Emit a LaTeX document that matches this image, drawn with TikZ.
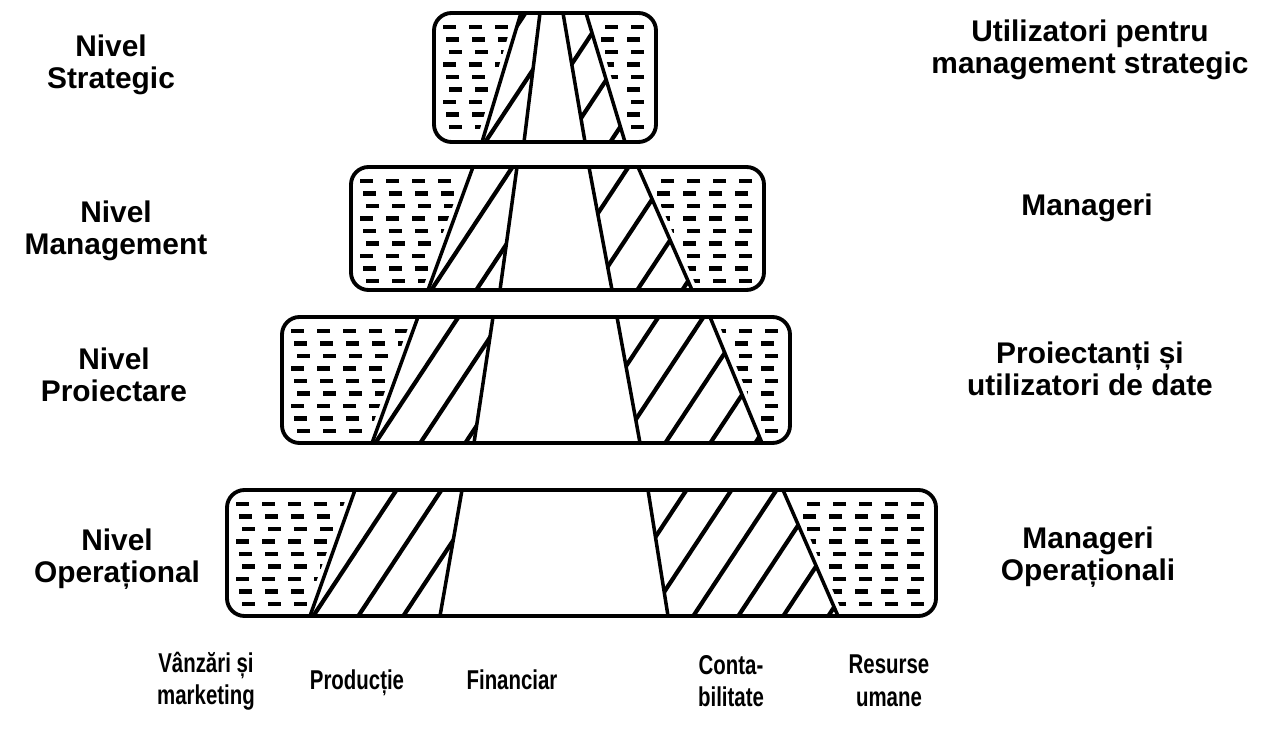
\documentclass[tikz,border=0pt]{standalone}
\usepackage{fontspec}
\setmainfont{Liberation Sans}
\newfontfamily\narrowsans[FakeStretch=0.75]{Liberation Sans}
\begin{document}
\begin{tikzpicture}[x=0.02cm, y=-0.02cm,
  frame/.style={line width=2.2pt, rounded corners=10pt},
  divider/.style={line width=2pt},
  hatchline/.style={line width=2.4pt, line cap=round},
  dashrow/.style={line width=2.4pt, dash pattern=on 7.6pt off 7.2pt},
  lbl/.style={font=\fontsize{17}{18.5}\selectfont\bfseries, align=center, inner sep=0pt},
  deptlbl/.style={font=\narrowsans\bfseries\fontsize{15.5}{18.5}\selectfont, align=center, inner sep=0pt}]
\useasboundingbox (0,0) rectangle (1277,732);

% one band per level: top/bottom, left/right, then the four slanted dividers (top x / bottom x)
\foreach \ya/\yb/\xl/\xr/\pa/\qa/\pb/\qb/\pc/\qc/\pd/\qd in {
  13/142/434/656/521/482/540/524/563/585/586/625,
  167/290/351/764/473/428/517/500/589/612/638/692,
  317/443/282/790/418/372/493/474/617/640/710/762,
  490/616/227/936/355/310/462/440/648/668/783/838}
{
  \begin{scope}
    \clip[rounded corners=10pt] (\xl,\ya) rectangle (\xr,\yb);
    % sales and marketing: rows of short dashes
    \begin{scope}
      \clip (\xl-9,\ya) -- (\pa-6,\ya) -- (\qa-6,\yb) -- (\xl-9,\yb) -- cycle;
      \foreach \k in {0,...,8}{
        \pgfmathsetmacro{\rowy}{\ya+14+12.5*\k}
        \pgfmathsetmacro{\rowx}{\xl+9+mod(\k,3)*3}
        \draw[dashrow] (\rowx,\rowy) -- (\pa+20,\rowy);
      }
    \end{scope}
    % production: diagonal hatching
    \begin{scope}
      \clip (\pa,\ya) -- (\pb,\ya) -- (\qb,\yb) -- (\qa,\yb) -- cycle;
      \foreach \s in {-4,...,5}
        \draw[hatchline] (\qa+45*\s,\yb+5) -- ++(95.7,-145);
    \end{scope}
    % accounting: diagonal hatching
    \begin{scope}
      \clip (\pc,\ya) -- (\pd,\ya) -- (\qd,\yb) -- (\qc,\yb) -- cycle;
      \foreach \s in {-4,...,5}
        \draw[hatchline] (\qc+22+45*\s,\yb+5) -- ++(95.7,-145);
    \end{scope}
    % human resources: rows of short dashes
    \begin{scope}
      \clip (\pd+6,\ya) -- (\xr+9,\ya) -- (\xr+9,\yb) -- (\qd+6,\yb) -- cycle;
      \foreach \k in {0,...,8}{
        \pgfmathsetmacro{\rowy}{\ya+14+12.5*\k}
        \pgfmathsetmacro{\rowx}{\xr-12-mod(\k,2)*4}
        \draw[dashrow] (\rowx,\rowy) -- (\pd-20,\rowy);
      }
    \end{scope}
  \end{scope}
  \draw[divider] (\pa,\ya) -- (\qa,\yb);
  \draw[divider] (\pb,\ya) -- (\qb,\yb);
  \draw[divider] (\pc,\ya) -- (\qc,\yb);
  \draw[divider] (\pd,\ya) -- (\qd,\yb);
  \draw[frame] (\xl,\ya) rectangle (\xr,\yb);
}

% level names
\node[lbl] (lvS) at (111,65)  {Nivel\\Strategic};
\node[lbl] (lvM) at (116,231) {Nivel\\Management};
\node[lbl] (lvP) at (114,375) {Nivel\\Proiectare};
\node[lbl] (lvO) at (117,559) {Nivel\\Operațional};

% users of each level
\node[lbl] (usS) at (1090,50)  {Utilizatori pentru\\management strategic};
\node[lbl] (usM) at (1087,208) {Manageri};
\node[lbl] (usP) at (1090,369) {Proiectanți și\\utilizatori de date};
\node[lbl] (usO) at (1088,557) {Manageri\\Operaționali};

% functional areas
\node[deptlbl] (dV) at (206,681) {Vânzări și\\marketing};
\node[deptlbl, anchor=base] (dP) at (357,689) {Producție};
\node[deptlbl, anchor=base] (dF) at (512,689) {Financiar};
\node[deptlbl] (dC) at (731,681) {Conta-\\bilitate};
\node[deptlbl] (dR) at (889,681) {Resurse\\umane};
\end{tikzpicture}
\end{document}
